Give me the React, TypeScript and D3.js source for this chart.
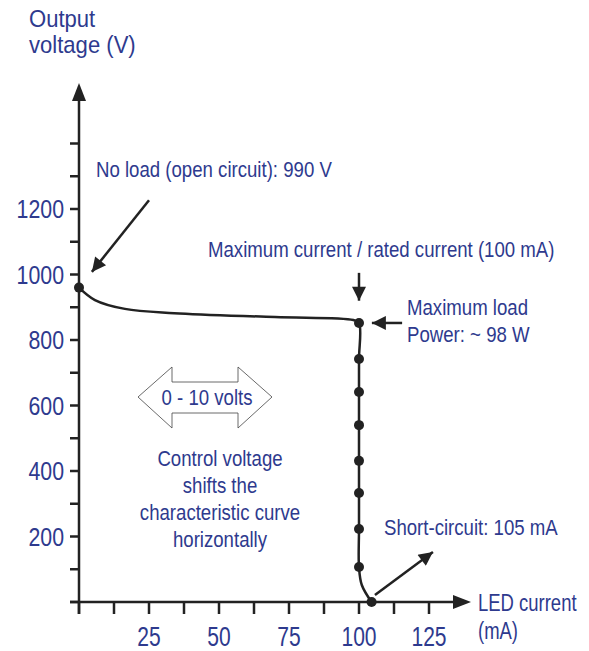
import React, { useEffect, useRef } from "react";
import * as d3 from "d3";

// characteristic curve: LED current (mA) vs output voltage (V)
const curveCurrent = [0, 5.7, 16.4, 34, 70, 98, 100, 100, 100, 100, 100, 100, 100, 100, 101, 104.5];
const curveVoltage = [960, 922, 895, 882, 870, 861, 852, 742, 641, 540, 431, 333, 223, 107, 52, 0];

// dots on the curve
const dotCurrent = [0, 100, 100, 100, 100, 100, 100, 100, 100, 104.5];
const dotVoltage = [960, 852, 742, 641, 540, 431, 333, 223, 107, 0];

const yTickLabels = [200, 400, 600, 800, 1000, 1200];
const xTickLabels = [25, 50, 75, 100, 125];

const controlLines = ["Control voltage", "shifts the", "characteristic curve", "horizontally"];

const BLUE = "#2e3a8e";
const INK = "#222";
const FONT = "'Liberation Sans', Arial, sans-serif";

export default function App() {
  const svgRef = useRef<SVGSVGElement>(null);

  useEffect(() => {
    const width = 589;
    const height = 651;
    const svg = d3.select(svgRef.current).attr("width", width).attr("height", height);
    svg.selectAll("*").remove();

    const x = d3.scaleLinear().domain([0, 125]).range([79, 429]);
    const y = d3.scaleLinear().domain([0, 1200]).range([602, 209]);

    const defs = svg.append("defs");
    defs
      .append("marker")
      .attr("id", "head")
      .attr("viewBox", "0 0 10 10")
      .attr("refX", 10)
      .attr("refY", 5)
      .attr("markerUnits", "userSpaceOnUse")
      .attr("markerWidth", 16)
      .attr("markerHeight", 14)
      .attr("orient", "auto")
      .append("path")
      .attr("d", "M0,0 L10,5 L0,10 Z")
      .attr("fill", INK);

    // axes
    svg
      .append("line")
      .attr("x1", x(0)).attr("x2", x(0))
      .attr("y1", y(0) + 12).attr("y2", 98)
      .attr("stroke", INK).attr("stroke-width", 2.5);
    svg
      .append("path")
      .attr("d", `M${x(0)},83 L${x(0) - 7},101 L${x(0) + 7},101 Z`)
      .attr("fill", INK);
    svg
      .append("line")
      .attr("x1", 70).attr("x2", 456)
      .attr("y1", y(0)).attr("y2", y(0))
      .attr("stroke", INK).attr("stroke-width", 2.5);
    svg
      .append("path")
      .attr("d", `M471,${y(0)} L453,${y(0) - 7} L453,${y(0) + 7} Z`)
      .attr("fill", INK);

    // ticks
    const yTicks = d3.range(0, 1401, 100);
    svg
      .selectAll(".yt")
      .data(yTicks)
      .enter()
      .append("line")
      .attr("x1", 70).attr("x2", x(0))
      .attr("y1", (d) => y(d)).attr("y2", (d) => y(d))
      .attr("stroke", INK).attr("stroke-width", 2.5);
    const xTicks = d3.range(0, 126, 12.5);
    svg
      .selectAll(".xt")
      .data(xTicks)
      .enter()
      .append("line")
      .attr("x1", (d) => x(d)).attr("x2", (d) => x(d))
      .attr("y1", y(0)).attr("y2", y(0) + 12)
      .attr("stroke", INK).attr("stroke-width", 2.5);

    // double arrow around "0 - 10 volts"
    svg
      .append("path")
      .attr(
        "d",
        "M138,397 L172,367 L172,382 L238,382 L238,367 L272,397 L238,428 L238,413 L172,413 L172,428 Z"
      )
      .attr("fill", "#fff")
      .attr("stroke", "#444")
      .attr("stroke-width", 0.8);

    const txt = svg.append("g").attr("font-family", FONT).attr("fill", BLUE);

    // condensed text: the original uses a narrow sans
    const label = (
      tx: number,
      ty: number,
      s: string | number,
      size = 23,
      sx = 0.81,
      anchor = "start"
    ) =>
      txt
        .append("text")
        .attr("transform", `translate(${tx},${ty}) scale(${sx},1)`)
        .attr("font-size", size)
        .attr("text-anchor", anchor)
        .text(s);

    yTickLabels.forEach((d) => label(64, y(d) + 9, d, 26, 0.82, "end"));
    xTickLabels.forEach((d) => label(x(d), 646, d, 27, 0.78, "middle"));

    // axis titles
    label(29, 27, "Output", 24, 0.92);
    label(29, 53, "voltage (V)", 24, 0.92);
    label(478, 611, "LED current", 24, 0.77);
    label(478, 639, "(mA)", 24, 0.77);

    // annotations
    label(96, 177, "No load (open circuit): 990 V");
    label(208, 257, "Maximum current / rated current (100 mA)");
    label(407, 315, "Maximum load");
    label(407, 342, "Power: ~ 98 W");
    label(384, 535, "Short-circuit: 105 mA");
    label(207, 405, "0 - 10 volts", 23, 0.81, "middle");
    controlLines.forEach((s, i) => label(220, 466 + i * 27, s, 23, 0.81, "middle"));

    // annotation arrows (from, to) in data units
    const arrows = [
      [25, 1227, 4.6, 1008],
      [100, 1005, 100, 920],
      [115.4, 852, 104.6, 852],
      [105.7, 21, 126.4, 153],
    ];
    svg
      .selectAll(".arr")
      .data(arrows)
      .enter()
      .append("line")
      .attr("x1", (d) => x(d[0]))
      .attr("y1", (d) => y(d[1]))
      .attr("x2", (d) => x(d[2]))
      .attr("y2", (d) => y(d[3]))
      .attr("stroke", INK)
      .attr("stroke-width", 2.5)
      .attr("marker-end", "url(#head)");

    // curve
    const pts = curveCurrent.map((c, i) => [c, curveVoltage[i]] as [number, number]);
    const line = d3
      .line<[number, number]>()
      .x((d) => x(d[0]))
      .y((d) => y(d[1]))
      .curve(d3.curveCatmullRom.alpha(0.5));
    svg
      .append("path")
      .attr("d", line(pts))
      .attr("fill", "none")
      .attr("stroke", INK)
      .attr("stroke-width", 2.5);

    svg
      .selectAll(".dot")
      .data(dotCurrent)
      .enter()
      .append("circle")
      .attr("cx", (d) => x(d))
      .attr("cy", (_, i) => y(dotVoltage[i]))
      .attr("r", 5)
      .attr("fill", INK);
  }, []);

  return (
    <div style={{ position: "fixed", left: 0, top: 0 }}>
      <svg ref={svgRef} style={{ display: "block", background: "#fff" }} />
    </div>
  );
}
